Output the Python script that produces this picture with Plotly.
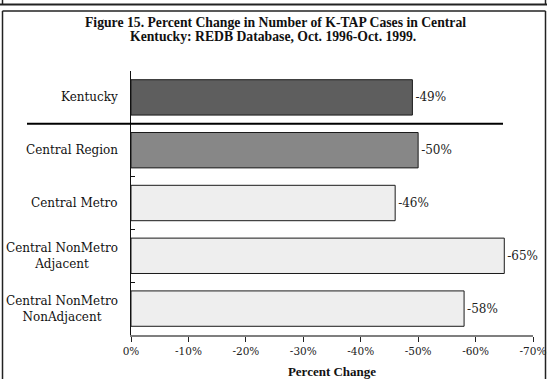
import plotly.graph_objects as go

# Percent change in K-TAP cases, Oct. 1996 - Oct. 1999
regions = [
    "Kentucky",
    "Central Region",
    "Central Metro",
    "Central NonMetro<br>Adjacent",
    "Central NonMetro<br>NonAdjacent",
]
pct_change = [-49, -50, -46, -65, -58]
bar_colors = ["#5e5e5e", "#878787", "#eeeeee", "#eeeeee", "#eeeeee"]
x_ticks = [0, -10, -20, -30, -40, -50, -60, -70]
x_tick_text = [f"{v}%" for v in x_ticks]

W, H = 547, 379
L, R, T, B = 131, 14, 71, 44
plot_w, plot_h = W - L - R, H - T - B


def px_x(p):
    return (p - L) / plot_w


def px_y(p):
    return (H - B - p) / plot_h


REG = "DejaVu Serif"
BOLD = "Liberation Serif"

fig = go.Figure(
    go.Bar(
        x=pct_change,
        y=list(range(len(regions))),
        orientation="h",
        marker=dict(color=bar_colors, line=dict(color="#1a1a1a", width=1)),
        text=[f"{v}%" for v in pct_change],
        textposition="outside",
        textfont=dict(family=REG, size=12, color="#222222"),
        cliponaxis=False,
        hoverinfo="skip",
    )
)

fig.update_layout(
    width=W,
    height=H,
    margin=dict(l=L, r=R, t=T, b=B, autoexpand=False),
    paper_bgcolor="white",
    plot_bgcolor="white",
    showlegend=False,
    bargap=0.33,
    xaxis=dict(
        range=[0, -70],
        tickvals=x_ticks,
        ticktext=x_tick_text,
        tickfont=dict(family=REG, size=10.5, color="#222222"),
        showgrid=False,
        zeroline=False,
        showline=True,
        linecolor="#7f7f7f",
        linewidth=2,
        ticks="outside",
        ticklen=5,
        tickwidth=1,
        tickcolor="#222222",
        title=dict(
            text="<b>Percent Change</b>",
            font=dict(family=BOLD, size=13, color="#111111"),
            standoff=18,
        ),
    ),
    yaxis=dict(
        range=[len(regions) - 0.5, -0.5],
        tickvals=[i - 0.5 for i in range(len(regions) + 1)],
        showticklabels=False,
        showgrid=False,
        zeroline=False,
        showline=True,
        linecolor="#111111",
        linewidth=1,
        ticks="inside",
        ticklen=4,
        tickwidth=1,
        tickcolor="#111111",
    ),
)

# Category labels, centred line by line, right edge against the axis
for i, name in enumerate(regions):
    fig.add_annotation(
        x=px_x(119),
        xref="paper",
        y=i,
        yref="y",
        text=name,
        showarrow=False,
        xanchor="right",
        yanchor="middle",
        align="center",
        font=dict(family=REG, size=12, color="#111111"),
        borderpad=0,
    )

# Two-line figure title
title_lines = [
    ("Figure 15. Percent Change in Number of K-TAP Cases in Central", 275, 23),
    ("Kentucky: REDB Database, Oct. 1996-Oct. 1999.", 273, 37),
]
for txt, cx, cy in title_lines:
    fig.add_annotation(
        x=px_x(cx),
        xref="paper",
        y=px_y(cy),
        yref="paper",
        text=f"<b>{txt}</b>",
        showarrow=False,
        xanchor="center",
        yanchor="middle",
        font=dict(family=BOLD, size=13.7, color="#111111"),
        borderpad=0,
    )

# Separator under the state total
fig.add_shape(
    type="line",
    xref="paper",
    yref="y",
    x0=px_x(27),
    x1=px_x(503),
    y0=0.5,
    y1=0.5,
    line=dict(color="#000000", width=2),
)

# Page frames
frame = dict(color="#222222", width=1.5)
fig.add_shape(type="line", xref="paper", yref="paper",
              x0=px_x(0), x1=px_x(W), y0=px_y(4.5), y1=px_y(4.5),
              line=dict(color="#222222", width=2))
fig.add_shape(type="line", xref="paper", yref="paper",
              x0=px_x(2.5), x1=px_x(2.5), y0=px_y(-2), y1=px_y(4.5), line=frame)
fig.add_shape(type="line", xref="paper", yref="paper",
              x0=px_x(545.5), x1=px_x(545.5), y0=px_y(-2), y1=px_y(4.5), line=frame)
fig.add_shape(type="line", xref="paper", yref="paper",
              x0=px_x(2.5), x1=px_x(545.5), y0=px_y(11), y1=px_y(11), line=frame)
fig.add_shape(type="line", xref="paper", yref="paper",
              x0=px_x(2.5), x1=px_x(2.5), y0=px_y(11), y1=px_y(H + 2), line=frame)
fig.add_shape(type="line", xref="paper", yref="paper",
              x0=px_x(545.5), x1=px_x(545.5), y0=px_y(11), y1=px_y(H + 2), line=frame)

fig.write_html("out.html")
